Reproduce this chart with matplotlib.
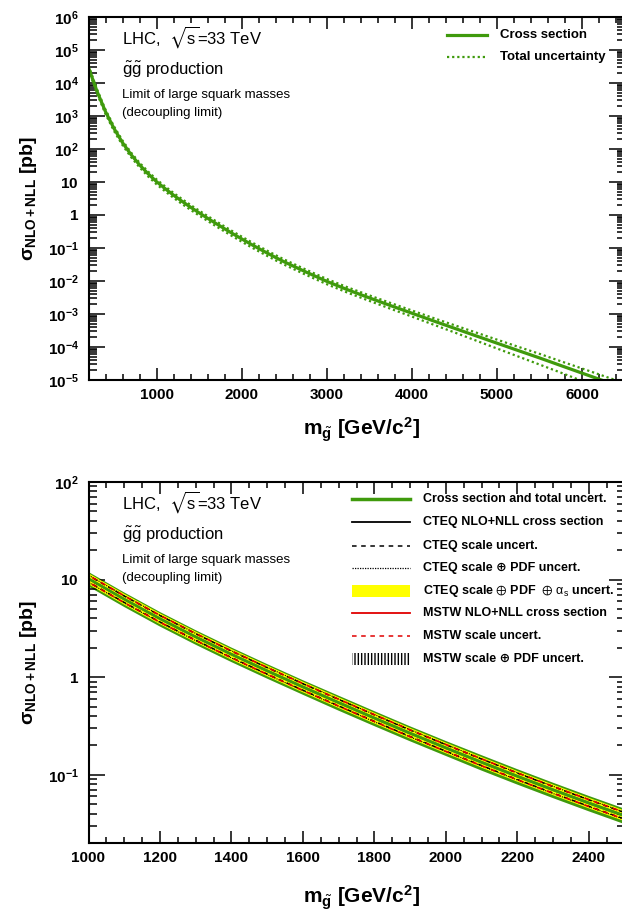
import numpy as np
import matplotlib
matplotlib.use("Agg")
import matplotlib.pyplot as plt
from matplotlib.ticker import MultipleLocator, LogLocator, FuncFormatter, NullFormatter
from matplotlib.patches import Rectangle

plt.rcParams['font.family'] = ['Liberation Sans', 'DejaVu Sans']
plt.rcParams['mathtext.fontset'] = 'custom'
plt.rcParams['mathtext.rm'] = 'Liberation Sans'
plt.rcParams['mathtext.bf'] = 'Liberation Sans:bold'
plt.rcParams['mathtext.it'] = 'Liberation Sans:italic'
plt.rcParams['mathtext.sf'] = 'Liberation Sans'
plt.rcParams['mathtext.fallback'] = 'stixsans'

# gluino mass [GeV] and NLO+NLL cross section [pb]
mass = [200, 300, 400, 500, 600, 700, 800, 900, 1000, 1100, 1200, 1300, 1400, 1500,
        1600, 1700, 1800, 1900, 2000, 2100, 2200, 2300, 2400, 2500, 2750, 3000, 3250,
        3500, 3750, 4000, 4250, 4500, 4750, 5000, 5250, 5500, 5750, 6000, 6250, 6500]
xsec = [29500, 5620, 1349, 417, 155, 67.6, 33.1, 17.8, 10.23, 6.31, 3.98, 2.59, 1.72, 1.164,
        0.796, 0.550, 0.382, 0.267, 0.189, 0.1346, 0.0968, 0.0703, 0.0515, 0.0381, 0.01905, 0.00977, 0.00537,
        0.00309, 0.00180, 0.00106, 6.24e-4, 3.70e-4, 2.20e-4, 1.31e-4, 7.82e-5, 4.68e-5, 2.75e-5, 1.62e-5, 9.55e-6, 5.62e-6]
# total uncertainty, percent up / down
unc_up = [15, 15, 15, 16, 16, 16, 16, 17, 17, 17, 17, 17, 17, 17,
          17, 17.5, 17.5, 17.5, 17.5, 18, 18, 18, 18, 18, 18, 18, 18.5,
          19, 20, 21, 22, 24, 26, 28, 30, 33, 35, 38, 40, 42]
unc_dn = [15, 15, 15, 16, 16, 16, 16, 17, 17, 17, 17, 17, 17, 17,
          17, 17.5, 17.5, 17.5, 17.5, 18, 18, 18, 18, 18, 18, 18, 18.5,
          19, 20, 21, 23, 25, 28, 31, 34, 37, 39, 42, 44, 46]
# CTEQ / MSTW component uncertainties (percent), same mass points
cteq_scale = [7.0]*8 + [7.5]*16 + [8.0]*16
cteq_pdf = [8.0]*8 + [8.5]*16 + [9.0]*16
cteq_alphas = [8.0]*8 + [8.0]*16 + [8.5]*16
mstw_scale = [7.5]*8 + [8.0]*16 + [8.5]*16

m = np.array(mass)
s = np.array(xsec)
up = s * (1 + np.array(unc_up) / 100.)
dn = s * (1 - np.array(unc_dn) / 100.)

green = '#3f9a0c'
red = '#e00000'

fig = plt.figure(figsize=(6.22, 9.15), dpi=100)
ax1 = fig.add_axes([88.5/622, (915-380)/915, 536/622, 363/915])
ax2 = fig.add_axes([88.5/622, (915-843)/915, 536/622, 361/915])


def logfmt(v, pos):
    e = int(round(np.log10(v)))
    if e == 0:
        return r'$\mathbf{1}$'
    if e == 1:
        return r'$\mathbf{10}$'
    return r'$\mathbf{10^{%d}}$' % e


def style(ax, major, minor):
    ax.set_yscale('log')
    ax.xaxis.set_major_locator(MultipleLocator(major))
    ax.xaxis.set_minor_locator(MultipleLocator(minor))
    ax.yaxis.set_major_locator(LogLocator(base=10, numticks=20))
    ax.yaxis.set_minor_locator(LogLocator(base=10, subs=np.arange(2, 10), numticks=20))
    ax.yaxis.set_major_formatter(FuncFormatter(logfmt))
    ax.yaxis.set_minor_formatter(NullFormatter())
    ax.tick_params(which='both', direction='in', top=True, right=True, width=1.1)
    ax.tick_params(axis='x', which='major', length=8.5, pad=6, labelsize=11)
    ax.tick_params(axis='x', which='minor', length=4.5)
    ax.tick_params(axis='y', which='major', length=11.5, pad=7, labelsize=11)
    ax.tick_params(axis='y', which='minor', length=5.5)
    for lab in ax.get_xticklabels():
        lab.set_fontweight('bold')
    for sp in ax.spines.values():
        sp.set_linewidth(1.5)
    ax.set_xlabel(r'm$_{\tilde{\mathbf{g}}}$ [GeV/c$^{\mathbf{2}}$]', fontsize=15, fontweight='bold')
    ax.set_ylabel('σ' + r'$_{\mathbf{NLO+NLL}}$' + ' [pb]', fontsize=14, fontweight='bold')
    ax.yaxis.set_label_coords(-0.092, 0.5)


def info(ax, h):
    ax.text(0.0625, 1 - 27/h, r'LHC,  $\sqrt{\mathrm{s}}$=33 TeV', transform=ax.transAxes, fontsize=12, va='baseline')
    ax.text(0.0625, 1 - 58/h, r'$\tilde{\mathrm{g}}\tilde{\mathrm{g}}$ production', transform=ax.transAxes, fontsize=12, va='baseline')
    ax.text(0.0625, 1 - 81/h, 'Limit of large squark masses', transform=ax.transAxes, fontsize=9.5, va='baseline')
    ax.text(0.0625, 1 - 99/h, '(decoupling limit)', transform=ax.transAxes, fontsize=9.5, va='baseline')


# ---- top panel ----
ax1.plot(m, up, color=green, lw=1.6, ls=(0, (1, 1.3)))
ax1.plot(m, dn, color=green, lw=1.6, ls=(0, (1, 1.3)))
ax1.plot(m, s, color=green, lw=2.3)
ax1.set_xlim(200, 6500)
ax1.set_ylim(1e-5, 1e6)
style(ax1, 1000, 200)
ax1.xaxis.set_label_coords(0.51, -0.098)
info(ax1, 363)

tr = ax1.transAxes
ax1.plot([0.669, 0.743], [0.950, 0.950], color=green, lw=2.3, transform=tr)
ax1.text(0.768, 0.950, 'Cross section', transform=tr, fontsize=9.5, fontweight='bold', va='center')
ax1.plot([0.669, 0.743], [0.890, 0.890], color=green, lw=1.6, ls=(0, (1, 1.3)), transform=tr)
ax1.text(0.768, 0.890, 'Total uncertainty', transform=tr, fontsize=9.5, fontweight='bold', va='center')

# ---- bottom panel ----
ax2.fill_between(m, dn, up, color=green, lw=0)
cs = np.array(cteq_scale) / 100.
cp = np.array(cteq_pdf) / 100.
ca = np.array(cteq_alphas) / 100.
ms = np.array(mstw_scale) / 100.
for sign in (1, -1):
    ax2.plot(m, s * (1 + sign * ca), color='#ffff00', lw=2.6)
    ax2.plot(m, s * (1 + sign * cs), color='black', lw=1.0, ls=(0, (3, 3)))
    ax2.plot(m, s * (1 + sign * cp), color='black', lw=0.8, ls=(0, (1, 1)))
    ax2.plot(m, s * (1 + sign * ms), color=red, lw=1.2, ls=(3, (3, 3)))
ax2.plot(m, s, color=green, lw=1.8)
ax2.set_xlim(1000, 2500)
ax2.set_ylim(0.02, 100)
style(ax2, 200, 50)
ax2.xaxis.set_label_coords(0.51, -0.112)
info(ax2, 361)

tr = ax2.transAxes
x0, x1, xt = 0.4916, 0.60, 0.624
rows = [0.953, 0.889, 0.823, 0.762, 0.698, 0.637, 0.573, 0.510]
labels = ['Cross section and total uncert.',
          'CTEQ NLO+NLL cross section',
          'CTEQ scale uncert.',
          'CTEQ scale ⊕ PDF uncert.',
          r'CTEQ scale $\oplus$ PDF  $\oplus$ $\mathrm{\alpha_{s}}$ uncert.',
          'MSTW NLO+NLL cross section',
          'MSTW scale uncert.',
          'MSTW scale ⊕ PDF uncert.']
ax2.plot([x0, x1], [rows[0]]*2, color=green, lw=2.5, transform=tr)
ax2.plot([x0, x1], [rows[1]]*2, color='black', lw=1.3, transform=tr)
ax2.plot([x0, x1], [rows[2]]*2, color='black', lw=1.1, ls=(0, (3, 3)), transform=tr)
ax2.plot([x0, x1], [rows[3]]*2, color='black', lw=0.9, ls=(0, (1, 1)), transform=tr)
ax2.add_patch(Rectangle((x0, rows[4] - 0.017), x1 - x0, 0.034, transform=tr, color='#ffff00', lw=0))
ax2.plot([x0, x1], [rows[5]]*2, color=red, lw=1.3, transform=tr)
ax2.plot([x0, x1], [rows[6]]*2, color=red, lw=1.1, ls=(0, (3, 3)), transform=tr)
ax2.add_patch(Rectangle((x0, rows[7] - 0.017), x1 - x0, 0.034, transform=tr, fill=False,
                        hatch='|||||', edgecolor='black', lw=0))
for r, lab in zip(rows, labels):
    ax2.text(xt, r, lab, transform=tr, fontsize=9, fontweight='bold', va='center')

fig.savefig('out.png', dpi=100)
